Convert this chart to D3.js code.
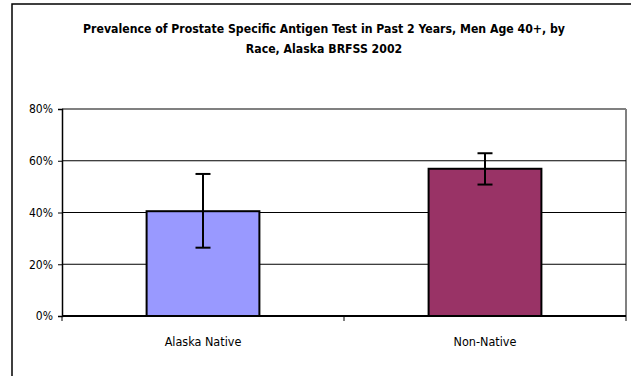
<!DOCTYPE html>
<html>
<head>
<meta charset="utf-8">
<script src="https://cdn.jsdelivr.net/npm/d3@7"></script>
<style>
  body { margin: 0; background: #fff; }
  svg text { font-family: "DejaVu Sans Condensed", "DejaVu Sans", sans-serif; fill: #000; }
</style>
</head>
<body>
<svg id="chart" width="631" height="376"></svg>
<script>
const categories = ["Alaska Native", "Non-Native"];
const values = [40.5, 56.9];
const errLow = [26.4, 50.8];
const errHigh = [54.9, 62.9];
const barColors = ["#9999FF", "#993366"];
const yTicks = [0, 20, 40, 60, 80];
const titleLines = [
  "Prevalence of Prostate Specific Antigen Test in Past 2 Years, Men Age 40+, by",
  "Race, Alaska BRFSS 2002"
];

const svg = d3.select("#chart");
const pLeft = 62, pRight = 626, pTop = 109, pBottom = 316;

// outer frame (runs off the right and bottom)
svg.append("rect")
  .attr("x", 12).attr("y", 4)
  .attr("width", 640).attr("height", 400)
  .attr("fill", "#fff").attr("stroke", "#000").attr("stroke-width", 1.5);

svg.selectAll(".title")
  .data(titleLines)
  .enter().append("text")
    .attr("x", 324)
    .attr("y", (d, i) => 33 + i * 20)
    .attr("text-anchor", "middle")
    .attr("font-size", 12.2)
    .attr("font-weight", "bold")
    .text(d => d);

const x = d3.scaleBand().domain(categories).range([pLeft, pRight]).paddingInner(0).paddingOuter(0);
const y = d3.scaleLinear().domain([0, 80]).range([pBottom, pTop]);

// plot area border
svg.append("line").attr("x1", pLeft).attr("x2", pRight).attr("y1", pTop).attr("y2", pTop)
  .attr("stroke", "#808080").attr("stroke-width", 2);
svg.append("line").attr("x1", pRight).attr("x2", pRight).attr("y1", pTop).attr("y2", pBottom)
  .attr("stroke", "#808080").attr("stroke-width", 2);

// gridlines
svg.selectAll(".grid")
  .data(yTicks.filter(t => t > 0 && t < 80))
  .enter().append("line")
    .attr("x1", pLeft).attr("x2", pRight)
    .attr("y1", d => y(d)).attr("y2", d => y(d))
    .attr("stroke", "#000").attr("stroke-width", 1);

// bars
const barW = x.bandwidth() * 0.4;
svg.selectAll(".bar")
  .data(categories)
  .enter().append("rect")
    .attr("x", d => x(d) + x.bandwidth() / 2 - barW / 2)
    .attr("y", (d, i) => y(values[i]))
    .attr("width", barW)
    .attr("height", (d, i) => pBottom - y(values[i]))
    .attr("fill", (d, i) => barColors[i])
    .attr("stroke", "#000").attr("stroke-width", 2);

// error bars
const eb = svg.append("g").attr("stroke", "#000").attr("stroke-width", 2);
categories.forEach((c, i) => {
  const cx = x(c) + x.bandwidth() / 2;
  eb.append("line").attr("x1", cx).attr("x2", cx).attr("y1", y(errHigh[i])).attr("y2", y(errLow[i]));
  [errHigh[i], errLow[i]].forEach(v => {
    eb.append("line").attr("x1", cx - 7.5).attr("x2", cx + 7.5).attr("y1", y(v)).attr("y2", y(v));
  });
});

// y axis
const yAxis = svg.append("g")
  .attr("transform", `translate(${pLeft},0)`)
  .call(d3.axisLeft(y).tickValues(yTicks).tickSize(4).tickPadding(5).tickFormat(d => d + "%"));
yAxis.attr("font-size", null).attr("font-family", null);
yAxis.select(".domain").attr("stroke", "#000").attr("stroke-width", 1.5);
yAxis.selectAll("text").attr("font-size", 12);

// x axis
svg.append("line").attr("x1", pLeft).attr("x2", pRight).attr("y1", pBottom).attr("y2", pBottom)
  .attr("stroke", "#000").attr("stroke-width", 2);
svg.selectAll(".xtick")
  .data([pLeft].concat(categories.map(c => x(c) + x.bandwidth())))
  .enter().append("line")
    .attr("x1", d => d).attr("x2", d => d)
    .attr("y1", pBottom).attr("y2", pBottom + 5)
    .attr("stroke", "#000").attr("stroke-width", 1);

svg.selectAll(".xlabel")
  .data(categories)
  .enter().append("text")
    .attr("x", d => x(d) + x.bandwidth() / 2)
    .attr("y", 346)
    .attr("text-anchor", "middle")
    .attr("font-size", 12.5)
    .text(d => d);
</script>
</body>
</html>
